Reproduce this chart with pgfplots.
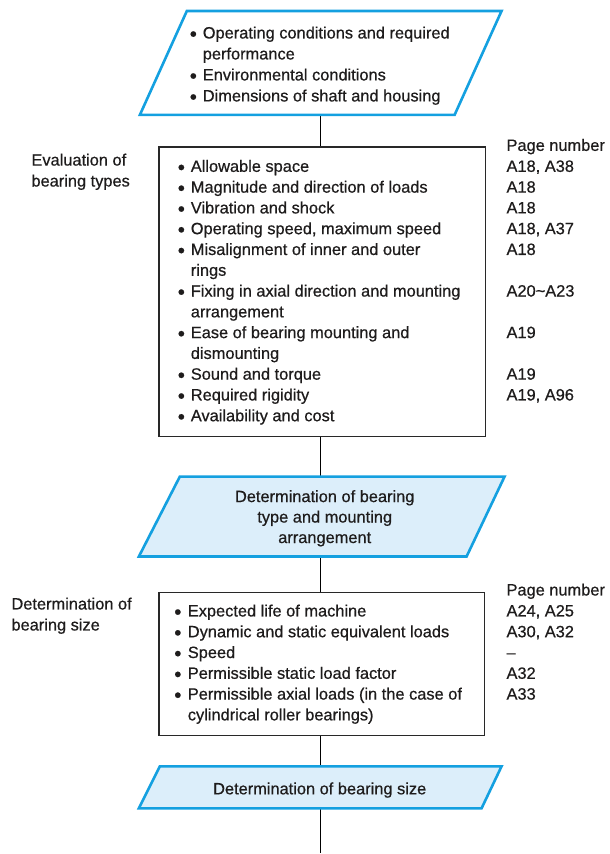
\documentclass[border=0pt]{standalone}
\usepackage{pgfplots}
\pgfplotsset{compat=1.18}
\usepackage{fontspec}
\setmainfont{Liberation Sans}[FakeBold=0.6]
\definecolor{cyanline}{RGB}{20,160,224}
\definecolor{cyanfill}{RGB}{220,238,250}
\definecolor{textc}{RGB}{30,28,28}
\definecolor{boxline}{RGB}{40,40,40}
\newcommand\bitem[4]{%
  \node[anchor=base] at (axis cs:#1,#3) {\raisebox{-2.4bp}{\scalebox{1.25}{\textbullet}}};
  \node[anchor=base west] at (axis cs:#2,#3) {#4};}
\newcommand\tline[3]{\node[anchor=base west] at (axis cs:#1,#2) {#3};}
\begin{document}
\begin{tikzpicture}[every node/.style={font=\fontsize{16.4bp}{20.8bp}\selectfont, text=textc, inner sep=0pt, outer sep=0pt}]
\begin{axis}[width=610bp, height=854bp, scale only axis,
  xmin=0, xmax=610, ymin=0, ymax=854, y dir=reverse,
  hide axis, clip=false]
\path (rel axis cs:0,0) rectangle (rel axis cs:1,1);
% connectors
\addplot[black, line width=1.5bp, forget plot] coordinates {(321,115) (321,147)};
\addplot[black, line width=1.5bp, forget plot] coordinates {(321,437) (321,477)};
\addplot[black, line width=1.5bp, forget plot] coordinates {(321,557) (321,593)};
\addplot[black, line width=1.5bp, forget plot] coordinates {(321,736) (321,767)};
\addplot[black, line width=1.5bp, forget plot] coordinates {(321,809) (321,854)};
% parallelogram 1
\addplot[draw=cyanline, fill=white, line width=2.6bp, line join=miter] coordinates {(187,11) (502,11) (455,115) (140,115)} -- cycle;
% box 1
\addplot[draw=boxline, fill=white, line width=1.4bp] coordinates {(159,147) (486,147) (486,437) (159,437)} -- cycle;
% parallelogram 2
\addplot[draw=cyanline, fill=cyanfill, line width=2.6bp, line join=miter] coordinates {(180,477) (505,477) (467,557) (139,557)} -- cycle;
% box 2
\addplot[draw=boxline, fill=white, line width=1.4bp] coordinates {(159,593) (485,593) (485,736) (159,736)} -- cycle;
% parallelogram 3
\addplot[draw=cyanline, fill=cyanfill, line width=2.6bp, line join=miter] coordinates {(160,767) (502,767) (482,809) (139,809)} -- cycle;

% top text
\bitem{193.5}{203}{38.5}{Operating conditions and required}
\tline{203}{59.5}{performance}
\bitem{193.5}{203}{80.5}{Environmental conditions}
\bitem{193.5}{203}{101.5}{Dimensions of shaft and housing}

% left labels
\tline{31.5}{165.7}{Evaluation of}
\tline{31.5}{186.7}{bearing types}
\tline{11.5}{610}{Determination of}
\tline{11.5}{631}{bearing size}

% box 1 text
\bitem{181.5}{191}{172}{Allowable space}
\bitem{181.5}{191}{192.8}{Magnitude and direction of loads}
\bitem{181.5}{191}{213.6}{Vibration and shock}
\bitem{181.5}{191}{234.4}{Operating speed, maximum speed}
\bitem{181.5}{191}{255.2}{Misalignment of inner and outer}
\tline{191}{276}{rings}
\bitem{181.5}{191}{296.8}{Fixing in axial direction and mounting}
\tline{191}{317.6}{arrangement}
\bitem{181.5}{191}{338.4}{Ease of bearing mounting and}
\tline{191}{359.2}{dismounting}
\bitem{181.5}{191}{380}{Sound and torque}
\bitem{181.5}{191}{400.8}{Required rigidity}
\bitem{181.5}{191}{421.6}{Availability and cost}

% page numbers 1
\tline{507}{151}{Page number}
\tline{507}{172}{A18, A38}
\tline{507}{192.8}{A18}
\tline{507}{213.6}{A18}
\tline{507}{234.4}{A18, A37}
\tline{507}{255.2}{A18}
\tline{507}{296.8}{A20\textasciitilde A23}
\tline{507}{338.4}{A19}
\tline{507}{380}{A19}
\tline{507}{400.8}{A19, A96}

% parallelogram 2 text
\node[anchor=base] at (axis cs:325,502.5) {Determination of bearing};
\node[anchor=base] at (axis cs:325,523) {type and mounting};
\node[anchor=base] at (axis cs:325,543.5) {arrangement};

% box 2 text
\bitem{178}{188}{617}{Expected life of machine}
\bitem{178}{188}{637.8}{Dynamic and static equivalent loads}
\bitem{178}{188}{658.6}{Speed}
\bitem{178}{188}{679.4}{Permissible static load factor}
\bitem{178}{188}{700.2}{Permissible axial loads (in the case of}
\tline{188}{721}{cylindrical roller bearings)}

% page numbers 2
\tline{507}{596}{Page number}
\tline{507}{617}{A24, A25}
\tline{507}{637.8}{A30, A32}
\tline{507}{658.6}{–}
\tline{507}{679.4}{A32}
\tline{507}{700.2}{A33}

% parallelogram 3 text
\node[anchor=base] at (axis cs:320,795) {Determination of bearing size};
\end{axis}
\end{tikzpicture}
\end{document}
